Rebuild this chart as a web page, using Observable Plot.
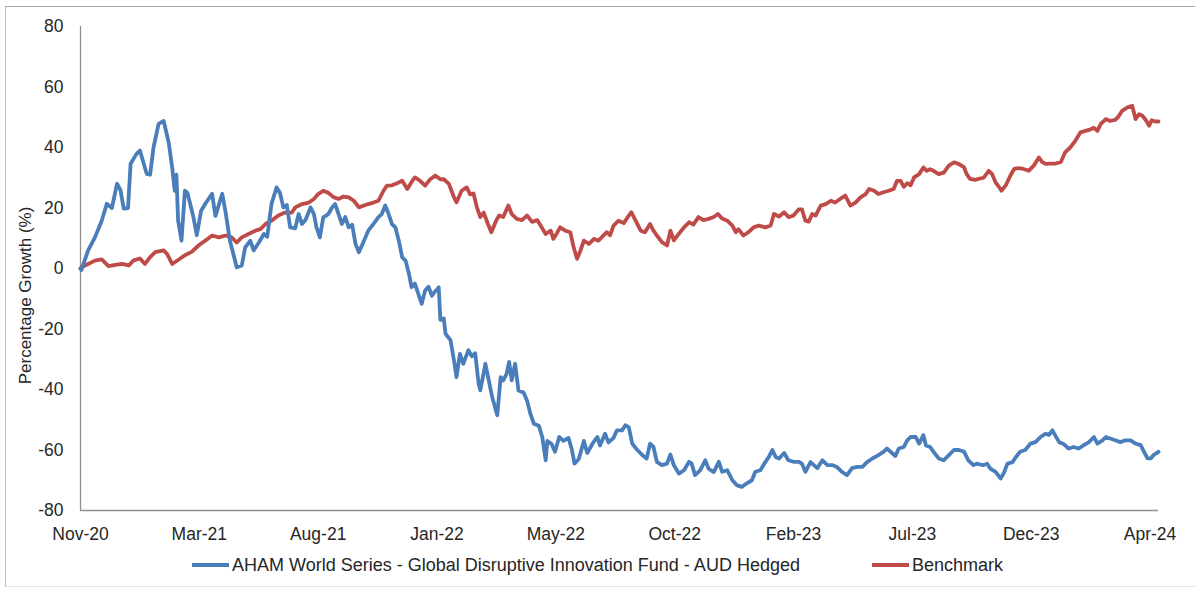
<!DOCTYPE html>
<html>
<head>
<meta charset="utf-8">
<script src="https://cdn.jsdelivr.net/npm/d3@7"></script>
<script src="https://cdn.jsdelivr.net/npm/@observablehq/plot@0.6"></script>
<style>
  html, body { margin: 0; padding: 0; background: #fff; }
  body { width: 1195px; height: 590px; position: relative; overflow: hidden; font-family: "Liberation Sans", Arial, sans-serif; }
  #frame { position: absolute; left: 5px; top: 6px; width: 1200px; height: 581px; border-left: 1px solid #bdbdbd; border-top: 1px solid #a6a6a6; border-bottom: 1px solid #e3e3e3; box-sizing: border-box; }
  #chart { position: absolute; left: 0; top: 0; }
  #legend { position: absolute; left: 0; top: 553px; width: 1195px; height: 24px; display: flex; justify-content: center; align-items: center; font-size: 18px; color: #262626; gap: 72px; }
  .item { display: flex; align-items: center; }
  .sw { width: 37px; height: 4px; margin-right: 3px; }
</style>
</head>
<body>
<div id="frame"></div>
<div id="chart"></div>
<div id="legend"></div>
<script>
// Series names
const seriesNames = ["AHAM World Series - Global Disruptive Innovation Fund - AUD Hedged", "Benchmark"];
const seriesColors = ["#4A7EBB", "#BE4B48"];

// X axis: days since start; tick labels every 140 days
const tickDays = [0, 140, 280, 420, 560, 700, 840, 980, 1120, 1260];
const tickLabels = ["Nov-20", "Mar-21", "Aug-21", "Jan-22", "May-22", "Oct-22", "Feb-23", "Jul-23", "Dec-23", "Apr-24"];
const yTicks = [-80, -60, -40, -20, 0, 20, 40, 60, 80];

// Fund (blue) — day offsets and percentage growth
const fundDays = [0,1,9,17,25,31,37,43,47,51,56,59,66,70,78,82,86,92,98,104,108,111,113,115,119,123,126,133,137,142,147,155,159,167,171,176,180,184,190,194,200,204,
210,216,220,225,231,235,239,243,247,253,257,261,265,271,275,278,282,286,292,296,300,304,308,312,316,320,324,328,334,339,345,351,355,359,363,367,371,375,379,383,387,390,394,398,402,406,410,414,418,420,422,
424,428,430,436,440,443,447,451,457,461,465,469,471,477,481,485,491,495,498,502,505,508,512,516,522,526,530,534,540,544,548,550,555,559,564,569,575,579,582,587,593,597,603,609,612,618,622,628,632,
638,642,646,650,656,662,667,671,675,679,685,691,695,699,705,711,717,720,724,730,736,740,746,752,756,762,768,773,779,785,791,795,801,807,811,815,819,823,829,834,840,
846,850,854,860,864,868,874,880,886,891,897,903,909,915,921,927,933,940,946,950,956,960,964,970,974,978,984,988,993,996,1001,1005,1011,1017,1023,1029,1035,1041,1046,1052,1056,
1060,1064,1068,1072,1078,1084,1088,1092,1098,1102,1107,1113,1119,1125,1131,1137,1141,1145,1149,1153,1158,1164,1170,1176,1182,1188,1194,1198,1204,1208,1213,1219,1225,1231,1237,1243,1249,1253,1257,1261,1264,1270];
const fundValues = [0,-0.5,6,10.3,15.8,21.4,20,28,26,19.8,20,34.6,37.9,39,31.3,31,40,47.8,48.8,41.5,33.4,25.7,31,15.8,9.2,25.7,25,17,11,19,21.4,24.7,17.4,24.7,18.5,9.2,4.9,0.4,1,7,9.2,6,
8.5,11.4,10.5,21.3,26.8,25,20.2,21,13.6,13.3,18,14.7,16,20.2,18,13.6,10.3,16.9,18,20,21.3,18,14.7,17,13.6,14.5,8.1,5.4,9.2,12.5,14.7,17,18,20.8,18,14.7,13.6,9.2,3.7,2.6,-1.8,-6.2,-5,-8.4,-11.7,-7.3,-6,-9,-7.5,-7,-6.2,
-17,-16.5,-21.5,-23.8,-30.4,-35.9,-28.2,-31.5,-27,-29,-28,-38,-40.3,-31.5,-37,-42.5,-48.5,-35.9,-37,-34.8,-30.9,-37,-31.5,-40.3,-41,-43.6,-48,-51.3,-52,-55.7,-63.4,-57,-58,-60.6,-55.7,-57,-56,-60,-64.5,-63,-57,-61,-58,-55.7,-58.5,-54.6,-57.5,-56,-53.5,
-53.5,-51.8,-52.5,-57.9,-60,-61.7,-62.8,-57.9,-59,-63.9,-65,-64.5,-61.5,-65,-67.8,-66.7,-63.9,-64.5,-68.3,-66.7,-63.4,-66.2,-67.3,-63.9,-67.2,-66.7,-70,-71.6,-72.2,-71,-70,-67.2,-66.7,-63.9,-62.3,-60,-62.3,-62.8,-61,-63.4,-63.9,
-63.9,-64.5,-67.2,-64,-65,-66,-63.4,-65,-65,-65.6,-67.2,-68.3,-66,-65.6,-65.6,-63.9,-62.8,-61.7,-60.6,-59.5,-61,-62,-59.5,-59,-56.8,-55.7,-55.7,-57.9,-55.1,-58.5,-59,-60.6,-62.8,-63.4,-61.7,-60,-60,-60.6,-63.4,-65,-64.5,
-64.8,-65,-64.5,-66.2,-67.2,-69.4,-67.5,-64.5,-64,-62.3,-60.6,-60,-57.9,-57.4,-55.7,-54.6,-55,-53.5,-55.5,-57.4,-58,-59.5,-59,-59.5,-58.4,-57.4,-55.7,-57.9,-56.8,-55.7,-56.2,-56.8,-57.4,-56.8,-56.8,-57.9,-58.4,-60.6,-62.8,-62.8,-61.7,-60.6];

// Benchmark (red)
const benchDays = [0,1,9,17,25,33,41,49,57,62,70,76,82,88,98,102,108,115,123,131,139,147,155,163,171,178,184,190,198,206,212,218,225,233,241,249,253,261,269,275,280,286,292,298,304,310,316,322,328,334,339,345,351,357,361,367,373,379,385,391,394,400,406,412,418,424,
428,434,440,443,449,455,459,463,467,471,475,480,484,489,493,498,504,508,514,520,526,532,538,542,548,554,557,561,565,571,577,581,585,589,593,599,605,610,614,620,624,628,
634,640,646,649,654,660,665,671,675,679,685,691,695,699,705,711,717,722,728,734,740,746,751,756,762,768,772,775,781,787,793,799,807,813,817,823,829,834,840,
846,850,854,858,862,866,872,878,884,889,895,901,907,913,919,925,929,935,940,946,952,958,962,966,970,974,978,982,988,993,997,1001,1005,1011,1017,1023,1029,1035,1041,1044,1048,1054,
1058,1064,1070,1074,1078,1082,1085,1090,1096,1100,1105,1111,1117,1123,1129,1133,1137,1143,1149,1155,1160,1166,1172,1178,1184,1190,1194,1198,1202,1208,1213,1219,1223,1227,1233,1239,1243,1247,1251,1255,1259,1262,1266,1270];
const benchValues = [0,0.4,1.5,2.6,3,0.8,1.2,1.5,1,2.6,3.3,1.5,3.8,5.4,6,4.8,1.5,2.8,4.4,5.5,7.6,9.2,10.9,10.3,10.9,10.3,8.6,10.3,11.4,12.5,13,14.7,15.8,17.5,18.5,18.5,20.2,21.3,21.8,23,24.6,25.7,25,23.6,23,23.8,23.5,22.4,20.2,20.8,21.3,21.8,22.4,25.7,27.4,27.5,28.2,29,26.3,29,30.1,29,27.4,29.5,30.7,29.5,
29.5,28,23.5,21.9,25.7,26.8,24.5,24.8,20.2,17,18.5,14.7,12,15.4,17.5,17,20.8,18,16.4,16,17.5,15.4,16,14.2,11.4,12.5,9.8,11.5,13.6,12.5,12,7,3.2,5.9,9.2,8.1,9.8,9.2,10.3,12,11,14.2,
15.8,15,17.5,18.6,15.8,12.5,12,14.7,12.5,10.9,8.7,7.6,12.5,9.3,11.5,13.6,15.3,14.5,17,16,16.4,17,18,16.5,15.8,14.2,12,13,10.9,12,13.6,14.2,13.6,14.2,18,17.2,18.6,17,17.5,
19.5,19.5,15.8,15.5,18,17.5,20.8,21.3,22.4,21.8,23,24.1,20.8,21.8,23.5,24.6,26.3,25.7,24.6,25.2,25.7,26.3,29,29,27,28.2,27.5,30.1,31.2,33.4,32.3,32.8,32.3,31.2,31.7,34,35.1,34.5,33.4,31.2,29.6,29.3,
29.6,30,32.3,31.2,28.5,27,25.7,27.5,31,32.9,33.2,32.9,32.3,34,36.7,35.2,34.6,34.7,34.7,35.2,38.4,40,42.2,45,45.5,46,46.5,45.5,47.8,49.4,48.8,49.1,50.3,52.1,53.2,53.8,49.4,51,50.5,49.1,47.2,49,48.6,48.6];

const fund = fundDays.map((d, i) => ({day: d, value: fundValues[i]}));
const bench = benchDays.map((d, i) => ({day: d, value: benchValues[i]}));

const axisColor = "#8f8f8f";
const textColor = "#262626";

const chart = Plot.plot({
  width: 1195,
  height: 550,
  marginLeft: 80,
  marginRight: 37,
  marginTop: 26,
  marginBottom: 40,
  style: {fontFamily: "'Liberation Sans', Arial, sans-serif", fontSize: "17.5px", color: textColor, background: "transparent", overflow: "visible"},
  x: {domain: [0, 1270], ticks: tickDays, tickFormat: d => tickLabels[tickDays.indexOf(d)]},
  y: {domain: [-80, 80], ticks: yTicks},
  marks: [
    Plot.axisY({ticks: yTicks, tickFormat: d => String(d), tickSize: 0, tickPadding: 17, label: null, fill: textColor}),
    Plot.axisX({ticks: tickDays, tickFormat: d => tickLabels[tickDays.indexOf(d)], tickSize: 0, tickPadding: 17, label: null, fill: textColor}),
    Plot.ruleX([0], {stroke: axisColor, strokeWidth: 1.3}),
    Plot.ruleY([-80], {stroke: axisColor, strokeWidth: 1.3}),
    Plot.line(bench, {x: "day", y: "value", stroke: seriesColors[1], strokeWidth: 3.8, strokeLinejoin: "round"}),
    Plot.line(fund, {x: "day", y: "value", stroke: seriesColors[0], strokeWidth: 3.8, strokeLinejoin: "round"}),
    Plot.text(["Percentage Growth (%)"], {frameAnchor: "left", textAnchor: "middle", dx: -55, dy: 27, rotate: -90, text: d => d, fill: textColor, fontSize: 17})
  ]
});
document.getElementById("chart").appendChild(chart);

const legend = document.getElementById("legend");
seriesNames.forEach((name, i) => {
  const item = document.createElement("div");
  item.className = "item";
  const sw = document.createElement("div");
  sw.className = "sw";
  sw.style.background = seriesColors[i];
  const t = document.createElement("span");
  t.textContent = name;
  item.appendChild(sw);
  item.appendChild(t);
  legend.appendChild(item);
});
</script>
</body>
</html>
